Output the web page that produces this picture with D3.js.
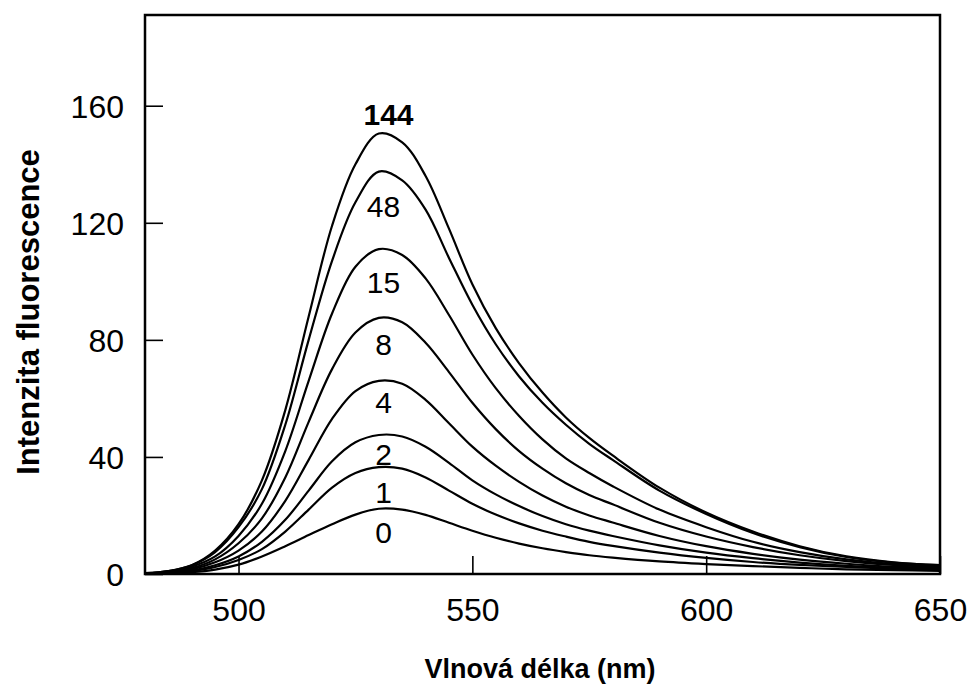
<!DOCTYPE html>
<html>
<head>
<meta charset="utf-8">
<script src="https://cdn.jsdelivr.net/npm/d3@7"></script>
<style>
  html, body { margin: 0; padding: 0; background: #fff; }
  svg { display: block; }
  text { font-family: Arial, "Liberation Sans", Helvetica, sans-serif; fill: #000; }
</style>
</head>
<body>
<svg id="chart" width="972" height="691"></svg>
<script>
// ---- data ----
const wavelengths = [480, 485, 490, 495, 500, 505, 510, 515, 520, 525, 530, 535, 540, 545, 550, 555, 560, 565, 570, 575, 580, 590, 600, 610, 620, 630, 640, 650];
const seriesNames = ["144", "48", "15", "8", "4", "2", "1", "0"];
const s144 = [0.3, 1, 3, 8, 17, 32, 56, 88, 119, 140, 150.5, 147.5, 136, 118, 99, 84, 72, 62, 53.5, 46.5, 40.5, 29.5, 21, 14.5, 9.5, 6, 4, 3];
const s48  = [0.3, 1, 3, 7.5, 16, 29, 51, 80, 107, 127, 137.5, 134.5, 124.5, 108, 92, 78.5, 67.5, 58.5, 51, 44.5, 39, 28.5, 20.5, 14, 9.2, 5.8, 3.9, 3];
const s15  = [0.2, 0.8, 2.5, 6, 13, 24, 42, 66, 89, 105, 111, 109, 101, 88.5, 75, 63.5, 54, 46, 39.5, 34.5, 30, 22, 16, 11, 7.5, 5, 3.4, 2.6];
const s8   = [0.2, 0.6, 2, 5, 10.5, 19, 33, 52, 70, 82.5, 87.5, 86, 79, 69, 58.5, 49.5, 42, 36, 31, 27, 23.8, 17.5, 12.8, 9.2, 6.4, 4.4, 3.1, 2.3];
const s4   = [0.1, 0.5, 1.6, 4, 8, 14.5, 25, 39, 53, 62.5, 66, 65, 59.5, 51.5, 43.5, 37, 31.5, 26.8, 23, 20, 17.6, 13, 9.5, 6.9, 4.9, 3.5, 2.5, 2];
const s2   = [0.1, 0.4, 1.2, 3, 6, 11, 18.5, 28.5, 38.5, 45, 47.5, 47, 43.5, 38, 32, 27.2, 23.2, 19.8, 17, 14.8, 13, 9.8, 7.3, 5.4, 3.9, 2.8, 2.1, 1.7];
const s1   = [0.1, 0.3, 1, 2.4, 4.8, 8.5, 14.5, 22, 29.5, 34.5, 36.5, 36, 33, 28.5, 24, 20.3, 17.3, 14.8, 12.8, 11, 9.6, 7.3, 5.5, 4.1, 3.1, 2.4, 1.8, 1.5];
const s0   = [0.05, 0.2, 0.6, 1.5, 3.2, 6, 9.5, 13.3, 17, 20.3, 22.3, 22, 20.2, 17.5, 14.8, 12.4, 10.4, 8.8, 7.5, 6.4, 5.6, 4.3, 3.4, 2.7, 2.1, 1.6, 1.3, 1.1];
const seriesValues = [s144, s48, s15, s8, s4, s2, s1, s0];
const xTicks = [500, 550, 600, 650];
const yTicks = [0, 40, 80, 120, 160];
const xTitle = "Vlnová délka (nm)";
const yTitle = "Intenzita fluorescence";

// ---- layout ----
const svg = d3.select("#chart");
const mLeft = 145, mRight = 940, mTop = 15, mBottom = 574;
const x = d3.scaleLinear().domain([480, 650]).range([mLeft, mRight]);
const y = d3.scaleLinear().domain([0, 191]).range([mBottom, mTop]);

// curves
const line = d3.line()
  .x((d, i) => x(wavelengths[i]))
  .y(d => y(d))
  .curve(d3.curveCatmullRom.alpha(0.5));

const g = svg.append("g");
seriesValues.forEach(vals => {
  g.append("path")
    .attr("d", line(vals))
    .attr("fill", "none")
    .attr("stroke", "#000")
    .attr("stroke-width", 2.2)
    .attr("stroke-linejoin", "round");
});

// frame
svg.append("rect")
  .attr("x", mLeft).attr("y", mTop)
  .attr("width", mRight - mLeft).attr("height", mBottom - mTop)
  .attr("fill", "none").attr("stroke", "#000").attr("stroke-width", 2.5);

// axes with inward ticks
const xAxis = d3.axisBottom(x).tickValues(xTicks).tickSize(-18).tickPadding(24).tickFormat(d3.format("d"));
const yAxis = d3.axisLeft(y).tickValues(yTicks).tickSize(-18).tickPadding(21).tickFormat(d3.format("d"));

const gx = svg.append("g").attr("transform", `translate(0,${mBottom})`).call(xAxis);
const gy = svg.append("g").attr("transform", `translate(${mLeft},0)`).call(yAxis);
[gx, gy].forEach(a => {
  a.select(".domain").remove();
  a.selectAll(".tick line").attr("stroke", "#000").attr("stroke-width", 1.6);
  a.selectAll(".tick text").attr("font-size", 32).attr("font-family", "Arial, 'Liberation Sans', sans-serif").attr("fill", "#000");
});
gx.selectAll(".tick text").attr("dy", "0.71em");
gy.selectAll(".tick text").attr("dy", "0.36em");

// curve labels
const labelOffsets = [-9, 45, 44, 37, 32, 30, 36, 34];
seriesNames.forEach((name, i) => {
  const peak = d3.max(seriesValues[i]);
  svg.append("text")
    .attr("x", x(531) + (i === 0 ? 5 : 0))
    .attr("y", y(peak) + labelOffsets[i])
    .attr("text-anchor", "middle")
    .attr("font-size", 30)
    .attr("font-weight", i === 0 ? "bold" : "normal")
    .text(name);
});

// axis titles
svg.append("text")
  .attr("x", 540).attr("y", 678)
  .attr("text-anchor", "middle")
  .attr("font-size", 27).attr("font-weight", "bold")
  .text(xTitle);

svg.append("text")
  .attr("transform", "translate(39,312) rotate(-90)")
  .attr("text-anchor", "middle")
  .attr("font-size", 31).attr("font-weight", "bold")
  .text(yTitle);
</script>
</body>
</html>
